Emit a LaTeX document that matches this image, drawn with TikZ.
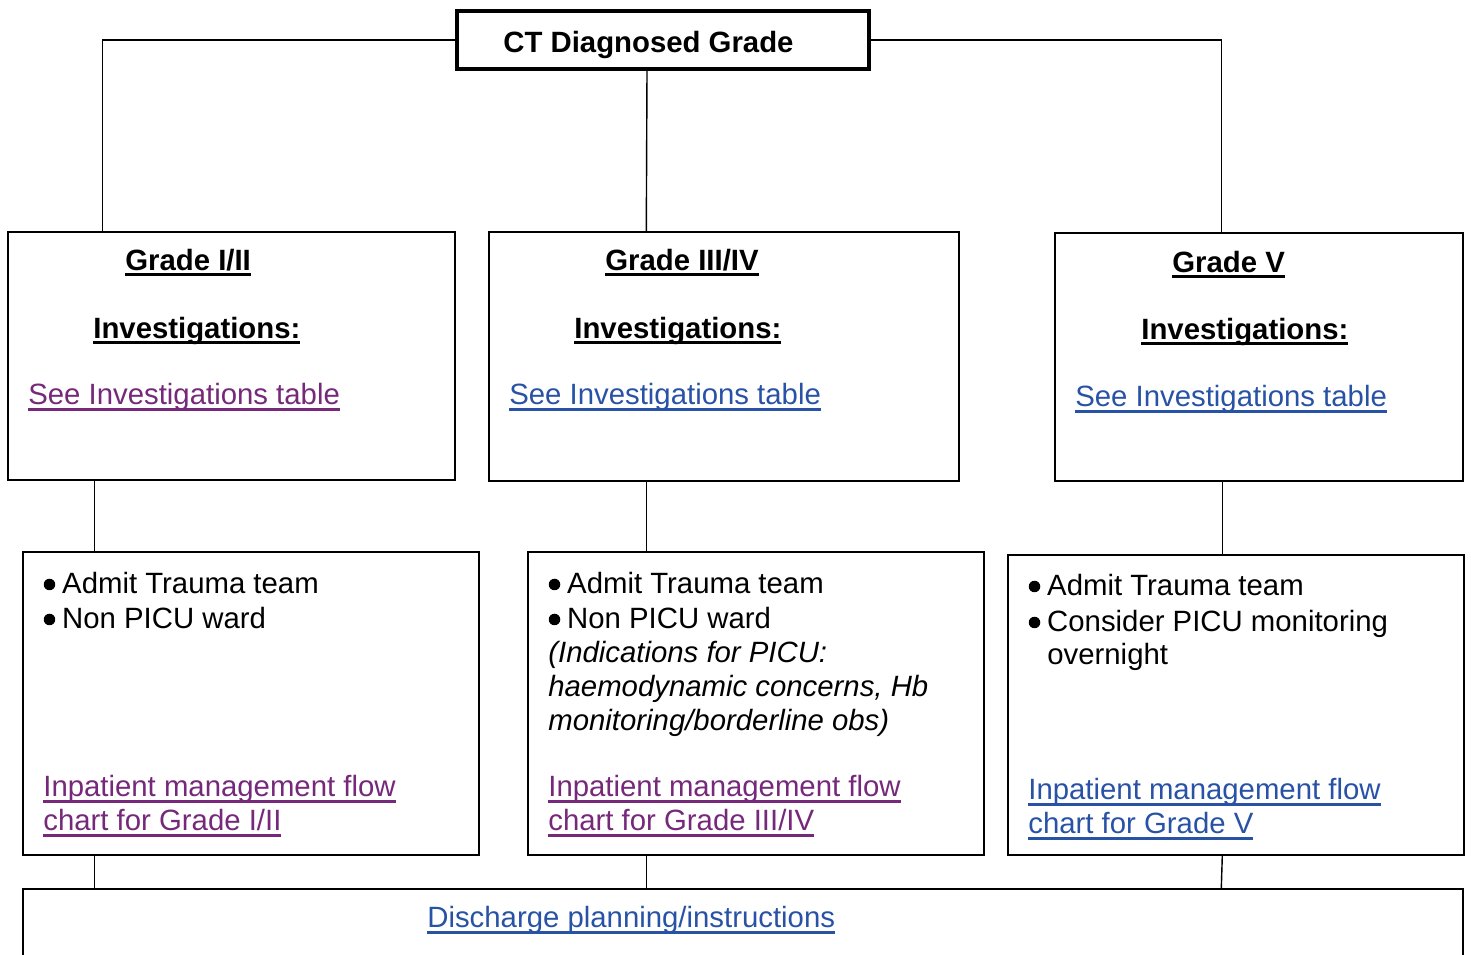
\documentclass[tikz,border=0pt]{standalone}
\usepackage{fontspec}
\setmainfont{Liberation Sans}
\usepackage{xcolor}
\usetikzlibrary{positioning,fit,calc}
\definecolor{lkPurple}{RGB}{118,40,122}
\definecolor{lkBlue}{RGB}{40,82,165}
% underlined heading / link text
\newcommand\headul[1]{\setbox0=\hbox{\bfseries #1}\rlap{\rule[-2.9pt]{\wd0}{1.7pt}}\box0}
\newcommand\linkul[1]{\setbox0=\hbox{#1}\rlap{\rule[-3.6pt]{\wd0}{1.4pt}}\box0}
\newcommand\bulitem{\hspace*{11.3pt}}

\begin{document}
\begin{tikzpicture}[x=0.02cm, y=-0.02cm,
    box/.style={draw, line width=0.8pt, inner sep=0pt},
    wire/.style={line width=0.8pt},
    txt/.style={anchor=base west, inner sep=0pt, yshift=-0.03cm, font=\fontsize{16.7}{20}\selectfont}]
  \useasboundingbox (0,0) rectangle (1471,955);
  \clip (0,0) rectangle (1471,955);

  % boxes
  \node[box, line width=2pt, fit={(457,11) (869,69)}] (ct) {};
  \node[box, fit={(8,232) (455,480)}] (g12) {};
  \node[box, fit={(489,232) (959,481)}] (g34) {};
  \node[box, fit={(1055,233) (1463,481)}] (g5) {};
  \node[box, fit={(23,552) (479,855)}] (adm12) {};
  \node[box, fit={(528,552) (984,855)}] (adm34) {};
  \node[box, fit={(1008,555) (1464,855)}] (adm5) {};
  \node[box, fit={(23,889) (1463,1000)}] (disch) {};

  % connectors
  \draw[wire] (ct.west) -| ($(g12.north west)+(95,0)$);
  \draw[wire] (ct.east) -| ($(g5.north west)+(167,0)$);
  \draw[wire] ($(ct.south)+(-16,0)$) -- ($(g34.north west)+(158,0)$);
  \draw[wire] ($(g12.south west)+(87,0)$) -- ($(adm12.north west)+(72,0)$);
  \draw[wire] ($(g34.south west)+(158,0)$) -- ($(adm34.north west)+(119,0)$);
  \draw[wire] ($(g5.south west)+(168,0)$) -- ($(adm5.north west)+(215,0)$);
  \draw[wire] ($(adm12.south west)+(72,0)$) -- ($(disch.north west)+(72,0)$);
  \draw[wire] ($(adm34.south west)+(119,0)$) -- ($(disch.north west)+(624,0)$);
  \draw[wire] ($(adm5.south west)+(215,0)$) -- ($(disch.north west)+(1199,0)$);

  % texts
  \node[txt] (ctlbl) at (503,51) {\bfseries CT Diagnosed Grade};

  \node[txt] (g12hd) at (125,269) {\headul{Grade I/II}};
  \node[txt] (g12inv) at (93,337) {\headul{Investigations:}};
  \node[txt, text=lkPurple] (g12see) at (28,403) {\linkul{See Investigations table}};

  \node[txt] (g34hd) at (605,269) {\headul{Grade III/IV}};
  \node[txt] (g34inv) at (574,337) {\headul{Investigations:}};
  \node[txt, text=lkBlue] (g34see) at (509,403) {\linkul{See Investigations table}};

  \node[txt] (g5hd) at (1172,271) {\headul{Grade V}};
  \node[txt] (g5inv) at (1141,338) {\headul{Investigations:}};
  \node[txt, text=lkBlue] (g5see) at (1075,405) {\linkul{See Investigations table}};

  \node[txt] (adm12a) at (42,592) {\bulitem Admit Trauma team};
  \node[txt] (adm12b) at (42,627) {\bulitem Non PICU ward};
  \node[txt, text=lkPurple] (adm12l1) at (43,795) {\linkul{Inpatient management flow}};
  \node[txt, text=lkPurple] (adm12l2) at (43,829) {\linkul{chart for Grade I/II}};

  \node[txt] (adm34a) at (547,592) {\bulitem Admit Trauma team};
  \node[txt] (adm34b) at (547,627) {\bulitem Non PICU ward};
  \node[txt, font=\fontsize{16.7}{20}\selectfont\itshape] (adm34i1) at (548,661) {(Indications for PICU:};
  \node[txt, font=\fontsize{16.7}{20}\selectfont\itshape] (adm34i2) at (548,695) {haemodynamic concerns, Hb};
  \node[txt, font=\fontsize{16.7}{20}\selectfont\itshape] (adm34i3) at (548,729) {monitoring/borderline obs)};
  \node[txt, text=lkPurple] (adm34l1) at (548,795) {\linkul{Inpatient management flow}};
  \node[txt, text=lkPurple] (adm34l2) at (548,829) {\linkul{chart for Grade III/IV}};

  \node[txt] (adm5a) at (1027,594) {\bulitem Admit Trauma team};
  \node[txt] (adm5b) at (1027,630) {\bulitem Consider PICU monitoring};
  \node[txt] (adm5c) at (1047,663) {overnight};
  \node[txt, text=lkBlue] (adm5l1) at (1028,798) {\linkul{Inpatient management flow}};
  \node[txt, text=lkBlue] (adm5l2) at (1028,832) {\linkul{chart for Grade V}};

  \node[txt, text=lkBlue] (dischlbl) at (427,926) {\linkul{Discharge planning/instructions}};

  % bullets
  \foreach \n in {adm12a,adm12b,adm34a,adm34b,adm5a,adm5b}
    \fill ($(\n.base west)+(7.5,-9)$) circle (0.115cm);
\end{tikzpicture}
\end{document}
